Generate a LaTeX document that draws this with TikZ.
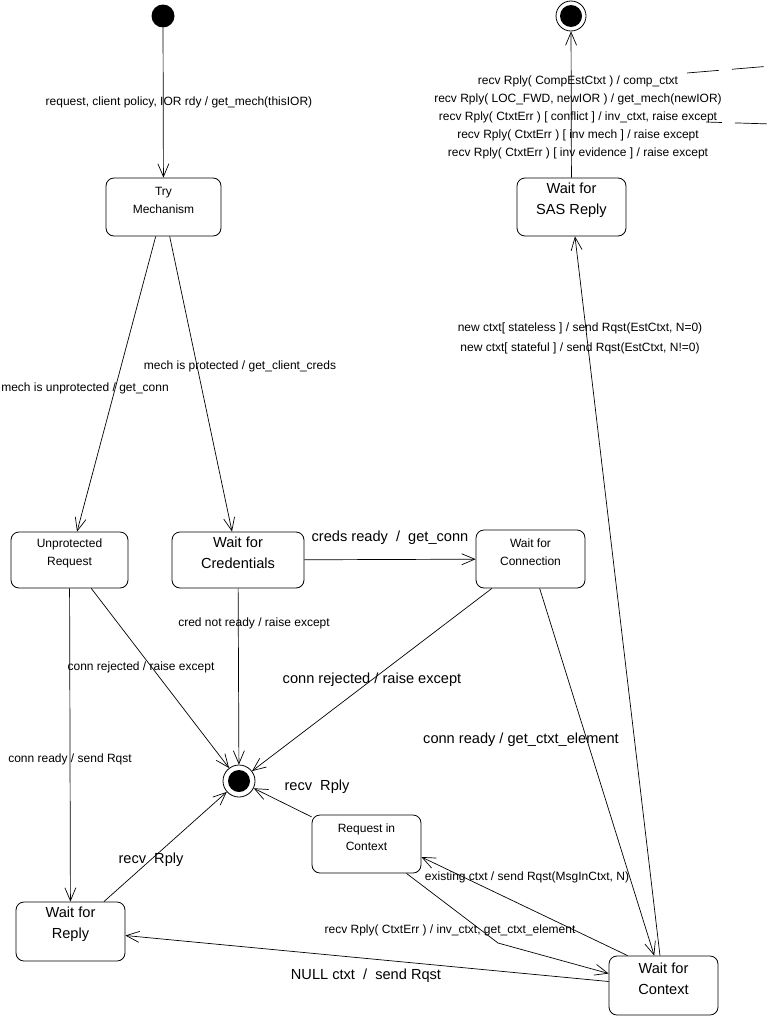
\documentclass[tikz,border=0pt]{standalone}
\usepackage{fontspec}
\setmainfont{Liberation Sans}
\usepackage{tikz}
\usetikzlibrary{arrows.meta,positioning,calc}

\begin{document}
\begin{tikzpicture}[x=1pt,y=-1pt,
  smalltext/.style={font=\fontsize{12}{18}\selectfont},
  bigtext/.style={font=\fontsize{14.6}{21}\selectfont},
  statebox/.style={draw,line width=0.8pt,rounded corners=8pt,inner sep=0pt,minimum height=58pt},
  boxtext/.style={align=center,inner sep=0pt,yshift=7pt},
  startdot/.style={circle,fill,minimum size=23pt,inner sep=0pt},
  enddot/.style={circle,draw,line width=0.8pt,inner sep=0pt,
    path picture={\fill (path picture bounding box.center) circle (11pt);}},
  trans/.style={-{Straight Barb[length=13pt,width=11pt]},line width=0.7pt},
  lbl/.style={smalltext,inner sep=0pt,align=center},
  biglbl/.style={bigtext,inner sep=0pt},
  offpage/.style={line width=0.7pt,dash pattern=on 32pt off 13pt}]

    \useasboundingbox (0,0) rectangle (771,1017);

    % states
    \node[startdot] (init) at (163,16) {};
    \node[enddot,minimum size=30pt] (done) at (571,16) {};
    \node[enddot,minimum size=32pt] (fail) at (239,781) {};

    \node[statebox,minimum width=115pt,label={[boxtext,smalltext]center:Try\\Mechanism}] (try) at (163.5,207) {};
    \node[statebox,minimum width=109pt,label={[boxtext,bigtext]center:Wait for\\SAS Reply}] (sas) at (571.5,207) {};
    \node[statebox,minimum width=117pt,minimum height=56pt,label={[boxtext,smalltext]center:Unprotected\\Request}] (unprot) at (69.5,560) {};
    \node[statebox,minimum width=132pt,minimum height=56pt,label={[boxtext,bigtext]center:Wait for\\Credentials}] (creds) at (238,560) {};
    \node[statebox,minimum width=109pt,label={[boxtext,smalltext]center:Wait for\\Connection}] (conn) at (530.5,559) {};
    \node[statebox,minimum width=109pt,label={[boxtext,smalltext]center:Request in\\Context}] (reqctx) at (366.5,844) {};
    \node[statebox,minimum width=109pt,minimum height=59pt,label={[boxtext,bigtext]center:Wait for\\Reply}] (wreply) at (70.5,931.5) {};
    \node[statebox,minimum width=109pt,minimum height=59pt,label={[boxtext,bigtext]center:Wait for\\Context}] (wctx) at (663.5,985.5) {};

    \coordinate (bend) at (498,943);
    \coordinate (offA0) at (687,73);
    \coordinate (offA1) at (771,66);
    \coordinate (offB0) at (706,122);
    \coordinate (offB1) at (771,124);

    % transitions
    \draw[trans] (init) -- (try);
    \draw[trans] (try) -- (unprot);
    \draw[trans] (try) -- (creds);
    \draw[trans] (creds) -- (conn);
    \draw[trans] (unprot) -- (wreply);
    \draw[trans] (unprot) -- (fail);
    \draw[trans] (creds) -- (fail);
    \draw[trans] (conn) -- (fail);
    \draw[trans] (conn) -- (wctx);
    \draw[trans] (wctx) -- (sas);
    \draw[trans] (sas) -- (done);
    \draw[trans] (wreply) -- (fail);
    \draw[trans] (reqctx) -- (fail);
    \draw[trans] ([xshift=19pt]wctx.north west) -- ([yshift=-13pt]reqctx.east);
    \draw[trans] ([xshift=40pt]reqctx.south) -- (bend) -- ([yshift=12pt]wctx.west);
    \draw[trans] ([yshift=4pt]wctx.west) -- ([yshift=-4pt]wreply.east);
    \draw[offpage] (offA0) -- (offA1);
    \draw[offpage,dash phase=16pt] (offB0) -- (offB1);

    % labels
    \node[lbl] (l-init) at (179,102) {request, client policy, IOR rdy / get\_mech(thisIOR)};
    \node[lbl] (l-unprot) at (85,388) {mech is unprotected / get\_conn};
    \node[lbl] (l-prot) at (240,366) {mech is protected / get\_client\_creds};
    \node[biglbl] (l-creds) at (390,538) {creds ready \ / \ get\_conn};
    \node[lbl] (l-rej1) at (141,667) {conn rejected / raise except};
    \node[lbl] (l-nocred) at (254,623) {cred not ready / raise except};
    \node[biglbl] (l-rej2) at (372,680) {conn rejected / raise except};
    \node[lbl] (l-send) at (70,759) {conn ready / send Rqst};
    \node[biglbl] (l-elem) at (521,740) {conn ready / get\_ctxt\_element};
    \node[biglbl] (l-rply1) at (317,787) {recv \ Rply};
    \node[biglbl] (l-rply2) at (151,860) {recv \ Rply};
    \node[lbl] (l-exist) at (527,877) {existing ctxt / send Rqst(MsgInCtxt, N)};
    \node[lbl] (l-err) at (450,930) {recv Rply( CtxtErr ) / inv\_ctxt, get\_ctxt\_element};
    \node[biglbl] (l-null) at (366,976) {NULL ctxt \ / \ send Rqst};
    \node[lbl] (l-new) at (580,338) {new ctxt[ stateless ] / send Rqst(EstCtxt, N=0)\\[2pt]
      new ctxt[ stateful ] / send Rqst(EstCtxt, N!=0)};
    \node[lbl] (l-sas) at (578,117) {recv Rply( CompEstCtxt ) / comp\_ctxt\\
      recv Rply( LOC\_FWD, newIOR ) / get\_mech(newIOR)\\
      recv Rply( CtxtErr ) [ conflict ] / inv\_ctxt, raise except\\
      recv Rply( CtxtErr ) [ inv mech ] / raise except\\
      recv Rply( CtxtErr ) [ inv evidence ] / raise except};
\end{tikzpicture}
\end{document}
